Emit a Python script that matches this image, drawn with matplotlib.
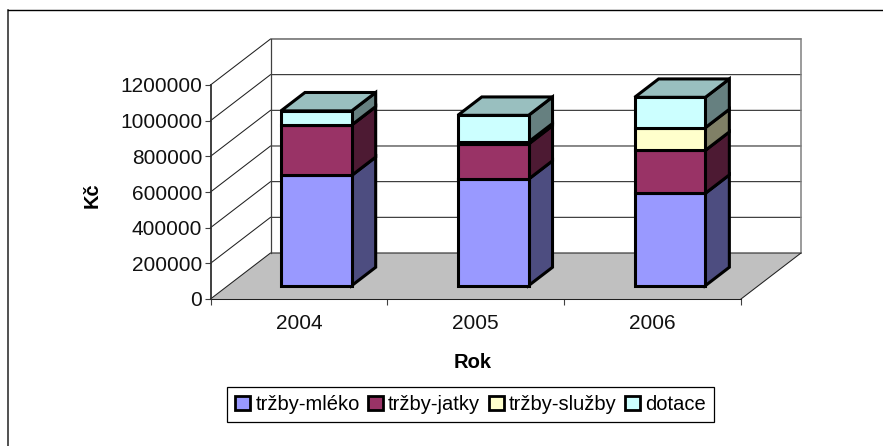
import matplotlib
matplotlib.use("Agg")
import matplotlib.pyplot as plt
from matplotlib.lines import Line2D
import numpy as np

plt.rcParams['font.family'] = ['Liberation Sans', 'DejaVu Sans']

years = ["2004", "2005", "2006"]
names = ["tržby-mléko", "tržby-jatky", "tržby-služby", "dotace"]
mleko = [618000, 597000, 518000]
jatky = [283000, 197000, 241000]
sluzby = [0, 12000, 127000]
dotace = [79000, 149000, 170000]
yticks = [0, 200000, 400000, 600000, 800000, 1000000, 1200000]

front = ["#9999FF", "#993366", "#FFFFCC", "#CCFFFF"]
side = ["#4D4D80", "#4D1A33", "#808066", "#668080"]
top_col = "#99BFBF"

W, H = 883, 446
fig = plt.figure(figsize=(W / 100, H / 100), dpi=100)
ax = fig.add_axes([210.5 / W, (H - 299) / H, 530.5 / W, 214 / H])
ax.set_xlim(0, 3)
ax.set_ylim(0, 1200000)

# the shear of the 3D box, in data units
dx = 60 / 176.8
dy = 258000
d0 = 0.29
d1 = 0.69
bw = 0.4

# walls and floor
ax.fill([0, 3, 3 + dx, dx], [0, 0, dy, dy], color="#C0C0C0", lw=0, clip_on=False, zorder=1)
for v in yticks:
    ax.plot([0, dx, 3 + dx], [v, v + dy, v + dy], color="#202020", lw=0.75, clip_on=False, zorder=2)
ax.plot([dx, dx], [dy, 1200000 + dy], color="#404040", lw=0.9, clip_on=False, zorder=2)
ax.plot([3 + dx, 3 + dx], [dy, 1200000 + dy], color="#808080", lw=1.1, clip_on=False, zorder=2)
ax.plot([3, 3 + dx], [0, dy], color="#202020", lw=0.75, clip_on=False, zorder=2)

# bars
series = [mleko, jatky, sluzby, dotace]
x = np.arange(3) + 0.5
left = x - bw / 2 + d0 * dx
right = left + bw
base = np.zeros(3)
for vals, c, s, name in zip(series, front, side, names):
    vals = np.array(vals)
    ax.bar(left, vals, bw, bottom=base + d0 * dy, align="edge", color=c, edgecolor="black",
           linewidth=2.2, clip_on=False, zorder=4, label=name)
    for i in range(3):
        b0, b1 = base[i], base[i] + vals[i]
        ax.fill([right[i], right[i] + (d1 - d0) * dx, right[i] + (d1 - d0) * dx, right[i]],
                [b0 + d0 * dy, b0 + d1 * dy, b1 + d1 * dy, b1 + d0 * dy],
                facecolor=s, edgecolor="black", lw=2.2, joinstyle="miter", clip_on=False, zorder=3)
    base = base + vals
for i in range(3):
    ax.fill([left[i], right[i], right[i] + (d1 - d0) * dx, left[i] + (d1 - d0) * dx],
            [base[i] + d0 * dy, base[i] + d0 * dy, base[i] + d1 * dy, base[i] + d1 * dy],
            facecolor=top_col, edgecolor="black", lw=2.2, joinstyle="miter", clip_on=False, zorder=3)

# axes
for sp in ["top", "right"]:
    ax.spines[sp].set_visible(False)
ax.spines["left"].set_color("#303030")
ax.spines["left"].set_linewidth(1.3)
ax.spines["bottom"].set_color("#202020")
ax.spines["bottom"].set_linewidth(0.75)
ax.spines["bottom"].set_zorder(2)
ax.patch.set_alpha(0)
ax.set_yticks(yticks)
ax.set_yticklabels([str(v) for v in yticks], fontsize=15, color="#111111")
ax.tick_params(axis="y", length=4, width=0.8, color="#404040", pad=2)
ax.set_xticks([0, 1, 2, 3])
ax.set_xticklabels([])
ax.set_xticks(x, minor=True)
ax.set_xticklabels(years, minor=True, fontsize=15, color="#111111")
ax.tick_params(axis="x", which="major", length=4, width=0.8, color="#404040")
ax.tick_params(axis="x", which="minor", length=0, pad=11)

fig.text(473 / W, 1 - 362 / H, "Rok", fontsize=14.5, fontweight="bold", ha="center", va="center")
fig.text(92 / W, 1 - 195 / H, "Kč", fontsize=14.5, fontweight="bold", rotation=90, ha="center", va="center")

# legend
handles, labels = ax.get_legend_handles_labels()
leg = fig.legend(handles, labels, ncol=4, loc="center", bbox_to_anchor=(470.5 / W, 1 - 404.5 / H),
                 fontsize=14.5, frameon=True, fancybox=False, edgecolor="black", framealpha=1,
                 handlelength=0.75, handleheight=0.75, handletextpad=0.25, columnspacing=0.41,
                 borderpad=0.4, borderaxespad=0)
leg.get_frame().set_linewidth(0.9)
for h in leg.legend_handles:
    h.set_linewidth(2.0)

# chart border, only left and top show in the picture
fig.add_artist(Line2D([8 / W, 8 / W], [0, 1 - 9.5 / H], color="#222222", lw=1.1))
fig.add_artist(Line2D([8 / W, 1], [1 - 9.5 / H, 1 - 9.5 / H], color="black", lw=1.0))

fig.savefig("out.png", dpi=100)
